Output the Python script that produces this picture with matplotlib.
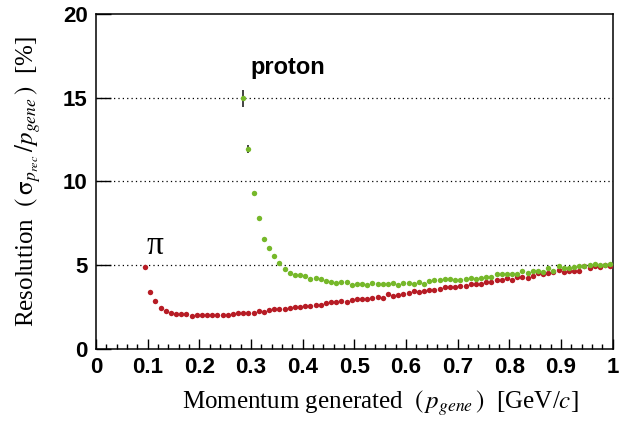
# Momentum resolution for pions and protons
import matplotlib.pyplot as plt
import numpy as np
from matplotlib.ticker import MultipleLocator

# momentum bin centres [GeV/c]
pion_p = np.arange(0.095, 1.0, 0.01)
pion_res = [4.91, 3.40, 2.85, 2.47, 2.25, 2.15, 2.07, 2.11, 2.07, 1.95,
            2.03, 2.05, 2.05, 2.05, 2.05, 2.05, 2.05, 2.09, 2.17, 2.15,
            2.17, 2.17, 2.25, 2.21, 2.31, 2.41, 2.41, 2.41, 2.47, 2.53,
            2.53, 2.55, 2.59, 2.63, 2.63, 2.77, 2.79, 2.83, 2.87, 2.83,
            2.91, 2.97, 2.97, 2.97, 3.02, 3.12, 3.02, 3.26, 3.14, 3.24,
            3.30, 3.36, 3.46, 3.40, 3.46, 3.50, 3.54, 3.58, 3.72, 3.72,
            3.72, 3.78, 3.78, 3.86, 3.86, 3.86, 3.98, 4.00, 4.12, 4.14,
            4.24, 4.14, 4.32, 4.32, 4.22, 4.38, 4.52, 4.48, 4.52, 4.58,
            4.72, 4.58, 4.68, 4.68, 4.68, 4.96, 4.84, 4.96, 4.92, 5.03,
            4.98]

proton_p = np.arange(0.285, 1.0, 0.01)
proton_res = [14.97, 11.94, 9.30, 7.82, 6.59, 6.01, 5.53, 5.11, 4.80, 4.56,
              4.43, 4.43, 4.37, 4.16, 4.22, 4.18, 4.08, 4.02, 3.94, 4.00,
              3.98, 3.80, 3.88, 3.88, 3.80, 3.94, 3.88, 3.88, 3.90, 3.92,
              3.80, 3.96, 3.96, 3.88, 4.02, 3.88, 4.08, 4.10, 4.12, 4.18,
              4.16, 4.14, 4.14, 4.16, 4.24, 4.20, 4.24, 4.30, 4.30, 4.46,
              4.48, 4.50, 4.50, 4.46, 4.64, 4.54, 4.64, 4.68, 4.62, 4.82,
              4.64, 4.96, 4.82, 4.86, 4.92, 4.96, 4.98, 5.00, 5.06, 5.04,
              5.04, 5.10]
proton_err = np.zeros(len(proton_res))
proton_err[:2] = [0.5, 0.25]

plt.rcParams['mathtext.fontset'] = 'stix'

fig = plt.figure(figsize=(6.19, 4.23), dpi=100)
ax = fig.add_axes([0.155, 0.175, 0.835, 0.792])

for y in [5, 10, 15]:
    ax.axhline(y, color='black', linestyle=(0, (1, 2.5)), linewidth=0.9, zorder=1)

ax.plot(pion_p, pion_res, 'o', color='#b71c25', markersize=3.9,
        markeredgewidth=0, zorder=3)
ax.errorbar(proton_p, proton_res, yerr=proton_err, fmt='o', color='#76b82a',
            ecolor='#222222', elinewidth=1.2, capsize=0, markersize=3.9,
            markeredgewidth=0, zorder=3)

ax.set_xlim(0, 1)
ax.set_ylim(0, 20)
ax.xaxis.set_minor_locator(MultipleLocator(0.02))
ax.yaxis.set_major_locator(MultipleLocator(5))
ax.set_xticks(np.arange(0, 1.01, 0.1))
ax.set_xticklabels(['0', '0.1', '0.2', '0.3', '0.4', '0.5', '0.6', '0.7',
                    '0.8', '0.9', '1'])
ax.tick_params(axis='x', which='major', direction='in', length=7, width=1,
               pad=6)
ax.tick_params(axis='x', which='minor', direction='in', length=3.6, width=1)
ax.tick_params(axis='y', which='major', direction='in', length=11, width=1,
               pad=6)
for lab in ax.get_xticklabels() + ax.get_yticklabels():
    lab.set_fontfamily('Liberation Sans')
    lab.set_fontweight('bold')
    lab.set_fontsize(16)
for s in ax.spines.values():
    s.set_linewidth(1.1)

ax.set_xlabel(r'Momentum generated  $(\,p_{gene}\,)$  [GeV/$c$]',
              fontfamily='Liberation Serif', fontsize=18, x=0.55, labelpad=7)
ax.set_ylabel(r'Resolution  $(\,\mathrm{\sigma}_{p_{rec}}\,/p_{gene}\,)$  [%]',
              fontfamily='Liberation Serif', fontsize=18, labelpad=14)

ax.text(0.298, 16.8, 'proton', fontfamily='Liberation Sans', fontweight='bold',
        fontsize=17, ha='left', va='center')
ax.text(0.114, 6.15, '\u03c0', fontfamily='Liberation Serif', fontsize=24,
        ha='center', va='center')

fig.savefig('out.png', dpi=100)
